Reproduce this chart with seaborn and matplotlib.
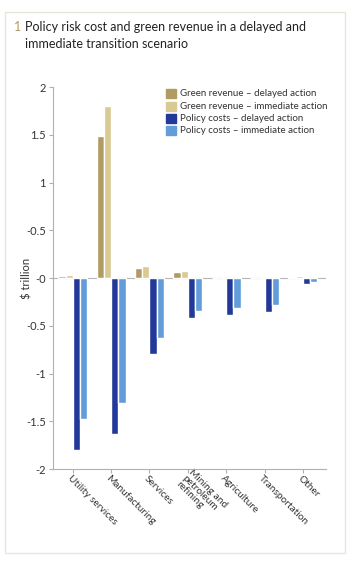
import pandas as pd
import matplotlib.pyplot as plt
import matplotlib.transforms as mtransforms
import seaborn as sns
from matplotlib.patches import Rectangle

sectors = ["Utility services", "Manufacturing", "Services", "Mining and\npetroleum\nrefining",
           "Agriculture", "Transportation", "Other"]
series = ["Green revenue \u2013 delayed action", "Green revenue \u2013 immediate action",
          "Policy costs \u2013 delayed action", "Policy costs \u2013 immediate action"]
green_delayed = [0.02, 1.49, 0.11, 0.065, 0.005, 0.005, 0.01]
green_immediate = [0.03, 1.80, 0.13, 0.08, 0.005, 0.005, 0.02]
cost_delayed = [-1.80, -1.63, -0.79, -0.42, -0.39, -0.35, -0.06]
cost_immediate = [-1.47, -1.31, -0.63, -0.34, -0.31, -0.28, -0.045]
ytick_vals = [2, 1.5, 1, 0.5, 0, -0.5, -1, -1.5, -2]
ytick_labels = ["2", "1.5", "1", "-0.5", "-0", "-0.5", "-1", "-1.5", "-2"]
colors = ["#B09B62", "#D8CA92", "#22399A", "#629DDA"]

rows = []
for s, vals in zip(series, [green_delayed, green_immediate, cost_delayed, cost_immediate]):
    for sec, v in zip(sectors, vals):
        rows.append({"Sector": sec, "Series": s, "Value": v})
df = pd.DataFrame(rows)

sns.set_theme(style="white")
plt.rcParams['font.family'] = ['Lato', 'DejaVu Sans']

fig = plt.figure(figsize=(3.5, 5.66), dpi=100)
ax = fig.add_axes([0.151, 0.171, 0.78, 0.675])

sns.barplot(data=df, x="Sector", y="Value", hue="Series", order=sectors, hue_order=series,
            palette=colors, width=0.76, saturation=1, ax=ax, legend=False)

ax.axhline(0, color="#b5b5b5", lw=0.8, zorder=0)
ax.set_ylim(-2, 2)
ax.set_xlim(-0.52, 6.6)
ax.set_yticks(ytick_vals)
ax.set_yticklabels(ytick_labels, fontsize=8, color="#333333")
ax.set_xticks(range(len(sectors)))
ax.set_xticklabels(sectors, rotation=-45, ha="left", va="center", rotation_mode="anchor",
                   fontsize=7.3, color="#333333", linespacing=0.95)
ax.set_xlabel("")
ax.set_ylabel("")
ax.tick_params(axis="y", length=3, width=0.8, color="#b0b0b0", pad=2, left=True)
ax.tick_params(axis="x", length=3, width=0.8, color="#b0b0b0", pad=2.5, bottom=True)
shift = mtransforms.ScaledTranslation(-4 / 100, 0, fig.dpi_scale_trans)
for lab in ax.get_xticklabels():
    lab.set_transform(lab.get_transform() + shift)
for side in ["top", "right"]:
    ax.spines[side].set_visible(False)
for side in ["left", "bottom"]:
    ax.spines[side].set_color("#b0b0b0")
    ax.spines[side].set_linewidth(0.8)

fig.text(0.077, 1 - 278 / 566, "$ trillion", rotation=90, ha="center", va="center",
         fontsize=8, color="#333333")

# legend
for i, (s, c) in enumerate(zip(series, colors)):
    y = 1 - (94 + i * 12.3) / 566
    fig.patches.append(Rectangle((166 / 350, y - 4.5 / 566), 10 / 350, 9 / 566,
                                 transform=fig.transFigure, color=c, figure=fig))
    fig.text(180 / 350, y, s, ha="left", va="center", fontsize=7.0, color="#333333")

# title
fig.text(14 / 350, 1 - 27 / 566, "1", ha="left", va="center", fontsize=9, color="#B09B62")
fig.text(25 / 350, 1 - 27 / 566, "Policy risk cost and green revenue in a delayed and",
         ha="left", va="center", fontsize=9, color="#222222")
fig.text(25 / 350, 1 - 44 / 566, "immediate transition scenario",
         ha="left", va="center", fontsize=9, color="#222222")

# outer frame
fig.patches.append(Rectangle((5 / 350, 1 - 553 / 566), 340 / 350, 541 / 566,
                             transform=fig.transFigure, fill=False, edgecolor="#e6e6dc",
                             lw=1, figure=fig))

fig.savefig("out.png", dpi=100)
